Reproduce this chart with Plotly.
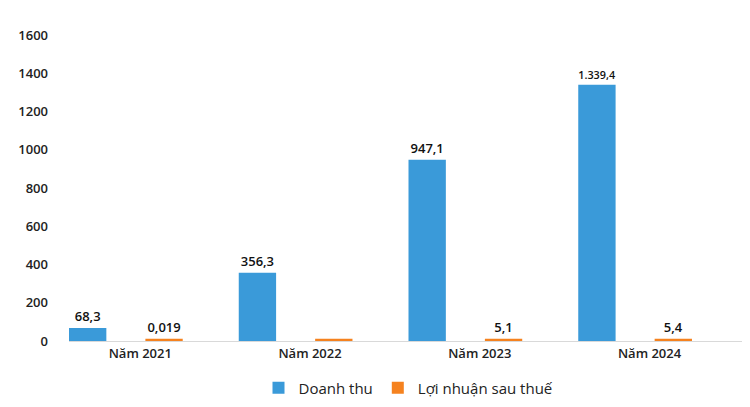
import plotly.graph_objects as go

categories = ["Năm 2021", "Năm 2022", "Năm 2023", "Năm 2024"]
doanh_thu = [68.3, 356.3, 947.1, 1339.4]
loi_nhuan = [0.019, 0.5, 5.1, 5.4]
dt_labels = ["68,3", "356,3", "947,1", "1.339,4"]
ln_labels = ["0,019", "", "5,1", "5,4"]

x = list(range(len(categories)))
fig = go.Figure()
fig.add_trace(go.Bar(x=x, y=doanh_thu, name="Doanh thu", marker_color="#3a9ad9",
                     marker_line_width=0,
                     width=0.22, offset=-0.42, text=dt_labels, textposition="outside",
                     cliponaxis=False, textfont=dict(size=13, color="#111", weight=600)))
fig.add_trace(go.Bar(x=x, y=[max(v, 12) for v in loi_nhuan], name="Lợi nhuận sau thuế",
                     marker_color="#f5821f", marker_line_width=0, width=0.22, offset=0.03,
                     text=ln_labels, textposition="outside", cliponaxis=False,
                     textfont=dict(size=13, color="#111", weight=600)))
fig.update_layout(
    width=750, height=407, plot_bgcolor="white", paper_bgcolor="white",
    margin=dict(l=50, r=10, t=27, b=72),
    font=dict(family="Open Sans", size=13, color="#222"),
    barmode="overlay",
    legend=dict(orientation="h", x=0.5, xanchor="center", y=-0.1, yanchor="top",
                font=dict(size=15), itemwidth=30),
    xaxis=dict(tickmode="array", tickvals=x, ticktext=categories, range=[-0.42, 3.58],
               showline=True, linecolor="#d9d9d9", ticks="",
               tickfont=dict(size=13, weight=600)),
    yaxis=dict(range=[0, 1600], dtick=200, showgrid=False, zeroline=False,
               tickfont=dict(size=13, weight=600), ticklabelstandoff=20),
)
fig.write_html("out.html")
